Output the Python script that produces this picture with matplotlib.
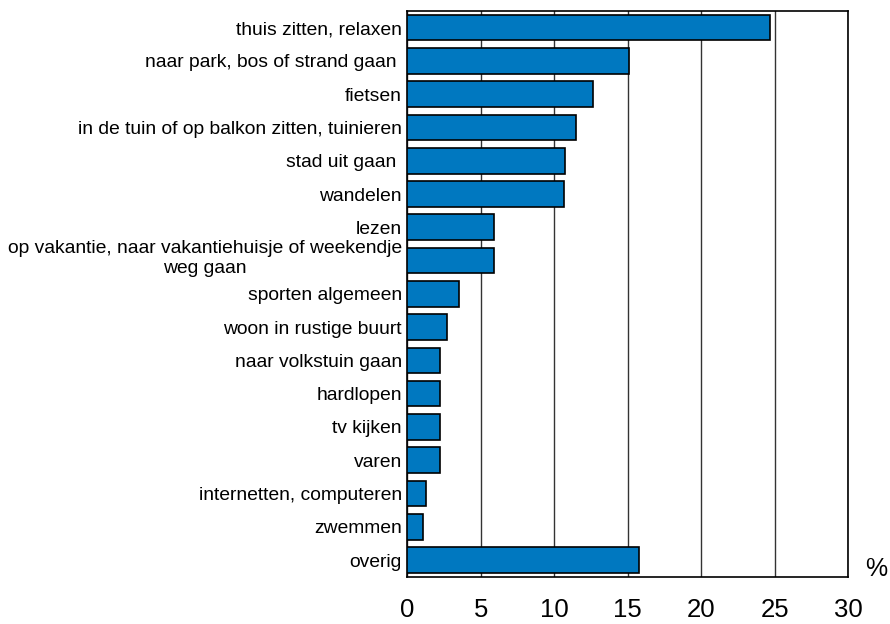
import matplotlib
matplotlib.use("Agg")
import matplotlib.pyplot as plt
import matplotlib.transforms as mtransforms
import numpy as np

plt.rcParams["font.family"] = ["Liberation Sans", "DejaVu Sans"]

# Categories, top to bottom
categories = [
    "thuis zitten, relaxen",
    "naar park, bos of strand gaan ",
    "fietsen",
    "in de tuin of op balkon zitten, tuinieren",
    "stad uit gaan ",
    "wandelen",
    "lezen",
    "op vakantie, naar vakantiehuisje of weekendje\nweg gaan",
    "sporten algemeen",
    "woon in rustige buurt",
    "naar volkstuin gaan",
    "hardlopen",
    "tv kijken",
    "varen",
    "internetten, computeren",
    "zwemmen",
    "overig",
]
values = [24.7, 15.1, 12.6, 11.5, 10.75, 10.65, 5.9, 5.9, 3.5, 2.7,
          2.2, 2.2, 2.2, 2.2, 1.3, 1.1, 15.75]
xticks = [0, 5, 10, 15, 20, 25, 30]

fig = plt.figure(figsize=(8.9, 6.24), dpi=100)
ax = fig.add_axes([0.4576, 0.0758, 0.4956, 0.9066])

y = np.arange(len(categories))
ax.barh(y, values, height=0.77, color="#0078C0", edgecolor="black",
        linewidth=1.2, zorder=3)

ax.set_xlim(0, 30)
ax.set_ylim(len(categories) - 0.5, -0.5)
ax.set_xticks(xticks)
ax.set_xticklabels([str(t) for t in xticks], fontsize=18.5)
ax.set_yticks(y)
ax.set_yticklabels(categories, fontsize=13.9, multialignment="center")
ax.tick_params(axis="x", length=0, pad=15)
ax.tick_params(axis="y", length=0, pad=4)

# the two-line label sits a little higher than its bar in the original
lab = ax.get_yticklabels()[7]
lab.set_transform(lab.get_transform()
                  + mtransforms.ScaledTranslation(0, 4 / 72, fig.dpi_scale_trans))

ax.grid(True, axis="x", color="#333333", linewidth=1, zorder=0)
ax.set_axisbelow(True)
for s in ax.spines.values():
    s.set_color("black")
    s.set_linewidth(1.2)

fig.text(0.9966, 0.0775, "%", fontsize=18, ha="right", va="baseline")

fig.savefig("out.png", dpi=100)
plt.close()
